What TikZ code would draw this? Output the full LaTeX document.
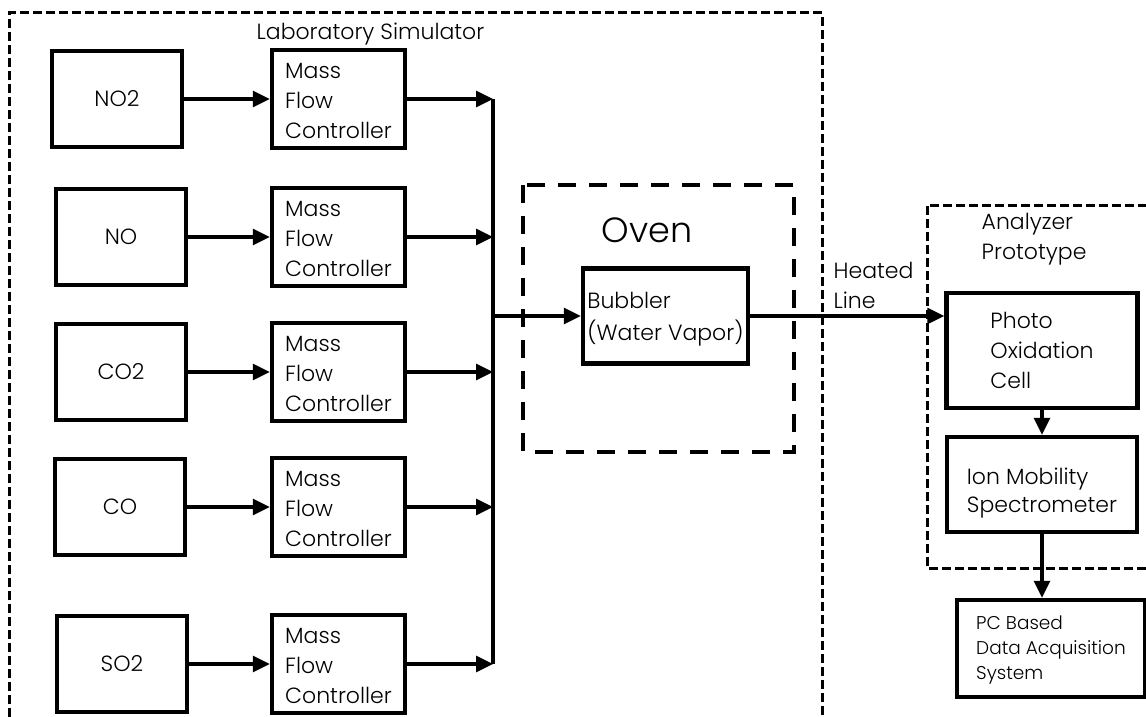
\documentclass[tikz,border=0pt]{standalone}
\usepackage{fontspec}
\setmainfont{Poppins}[UprightFont=* Light]
\usetikzlibrary{arrows.meta, positioning, calc}
\tikzset{
  blk/.style = {rectangle, draw=black, line width=4.5pt, inner sep=0pt, font=\fontsize{22}{30}\selectfont},
  gas_n/.style = {blk, minimum width=130pt, minimum height=96pt},
  mfc_n/.style = {blk, align=left, minimum width=133pt, minimum height=98pt},
  dev_n/.style = {blk, align=left},
  lbl_t/.style = {inner sep=0pt, align=left, font=\fontsize{22}{30}\selectfont},
  frame_d/.style = {-, line width=3pt, dash pattern=on 9pt off 4pt},
  oven_d/.style = {-, line width=4pt, dash pattern=on 18pt off 13pt}
}

\begin{document}
\begin{tikzpicture}[x=1pt,y=-1pt,->,>={Triangle[length=17pt,width=16pt]},line width=3.3pt]
  \clip (0,0) rectangle (1146,717);

  \draw[frame_d] (9,730) -- (9,13) -- (822,13) -- (822,730);
  \node[lbl_t, anchor=base west] (labsim) at (255,40) {Laboratory Simulator};

  \node[gas_n] (no2) at (117,99) {NO2};
  \node[gas_n] (no)  at (121,237) {NO};
  \node[gas_n] (co2) at (121,372) {CO2};
  \node[gas_n] (co)  at (120,507) {CO};
  \node[gas_n] (so2) at (122,664) {SO2};

  \node[mfc_n] (mfc1) at (338.5,99)  {\rule{0pt}{20pt}Mass\\Flow\\Controller};
  \node[mfc_n] (mfc2) at (338.5,237) {\rule{0pt}{20pt}Mass\\Flow\\Controller};
  \node[mfc_n] (mfc3) at (338.5,372) {\rule{0pt}{20pt}Mass\\Flow\\Controller};
  \node[mfc_n] (mfc4) at (338.5,507) {\rule{0pt}{20pt}Mass\\Flow\\Controller};
  \node[mfc_n] (mfc5) at (338.5,664) {\rule{0pt}{20pt}Mass\\Flow\\Controller};

  \draw (no2) -- (mfc1);
  \draw (no)  -- (mfc2);
  \draw (co2) -- (mfc3);
  \draw (co)  -- (mfc4);
  \draw (so2) -- (mfc5);

  \coordinate (bus) at (493,316);
  \draw[-] (mfc1 -| bus) -- (mfc5 -| bus);
  \draw (mfc1) -- (mfc1 -| bus);
  \draw (mfc2) -- (mfc2 -| bus);
  \draw (mfc3) -- (mfc3 -| bus);
  \draw (mfc4) -- (mfc4 -| bus);
  \draw (mfc5) -- (mfc5 -| bus);

  \draw[oven_d] (523,185) rectangle (794,452);
  \node[lbl_t, anchor=base west, font=\fontsize{35}{40}\selectfont] (oven) at (600,242) {Oven};
  \node[dev_n, minimum width=165pt, minimum height=95pt, font=\fontsize{22}{32}\selectfont] (bubbler) at (665.5,316) {\rule{0pt}{22pt}Bubbler\\(Water Vapor)};
  \draw (bus) -- (bubbler);

  \node[lbl_t, anchor=north west] (heated) at (832,261) {Heated\\Line};

  \draw[frame_d] (1160,205) -- (927,205) -- (927,568) -- (1160,568);
  \node[lbl_t, anchor=north west] (analyzer) at (980,212) {Analyzer\\Prototype};

  \node[dev_n, minimum width=191pt, minimum height=115pt] (photo) at (1042,350.5) {Photo\\Oxidation\\Cell};
  \node[dev_n, minimum width=190pt, minimum height=95pt, font=\fontsize{22}{28}\selectfont] (ims) at (1042,484.5) {\rule{0pt}{34pt}Ion Mobility\\Spectrometer};
  \node[dev_n, minimum width=188pt, minimum height=97pt, font=\fontsize{18.5}{25}\selectfont] (pc) at (1051,648.5) {\rule{0pt}{17pt}PC Based\\Data Acquisition\\System};

  \draw (bubbler) -- (bubbler -| photo.west);
  \draw (photo) -- (ims);
  \draw (ims) -- (ims |- pc.north);
\end{tikzpicture}
\end{document}
